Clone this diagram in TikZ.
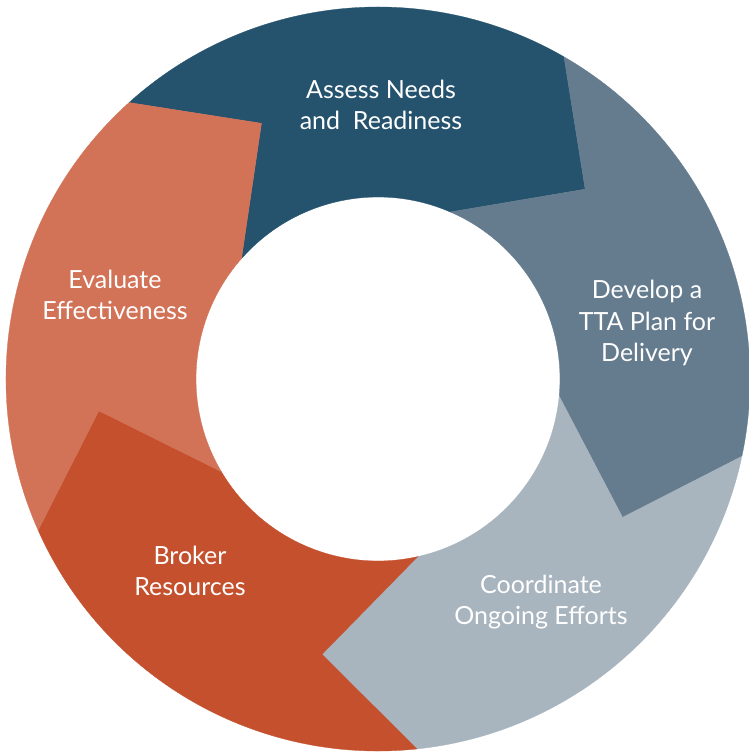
\documentclass[tikz,border=0pt]{standalone}
\usepackage{fontspec}
\setmainfont{Lato}
\definecolor{assessblue}{RGB}{37,83,110}
\definecolor{developslate}{RGB}{101,124,143}
\definecolor{coordgray}{RGB}{168,180,190}
\definecolor{brokerred}{RGB}{196,80,45}
\definecolor{evalorange}{RGB}{210,114,87}

\begin{document}
\begin{tikzpicture}
  [x=1pt, y=1pt,
   segment/.style={fill=#1, draw=#1, line width=0.3pt},
   steplabel/.style={
     text=white,
     align=center,
     inner sep=0pt,
     font=\fontsize{25}{31.5}\selectfont
     }
  ]
  \useasboundingbox (-378,-375) rectangle (370,379);

  % ring: outer 372, inner 182, arrow tips at 281
  \foreach \a/\col in {132/assessblue, 60/developslate, -12/coordgray, -84/brokerred, -156/evalorange}{
    \filldraw[segment=\col] (\a:372) arc[start angle=\a, end angle=\a-72, radius=372]
      -- (\a-89.5:281) -- (\a-65.4:182)
      arc[start angle=\a-65.4, end angle=\a+6.6, radius=182]
      -- (\a-17.5:281) -- cycle;
  }

  \node[steplabel] (assesstext) at (3,274) {Assess Needs\\and\ \ Readiness};
  \node[steplabel] (developtext) at (269,56) {Develop a\\TTA Plan for\\Delivery};
  \node[steplabel] (coordtext) at (163,-223) {Coordinate\\Ongoing Efforts};
  \node[steplabel] (brokertext) at (-188,-192) {Broker\\Resources};
  \node[steplabel] (evaltext) at (-263,84) {Evaluate\\Effectiveness};
\end{tikzpicture}
\end{document}
